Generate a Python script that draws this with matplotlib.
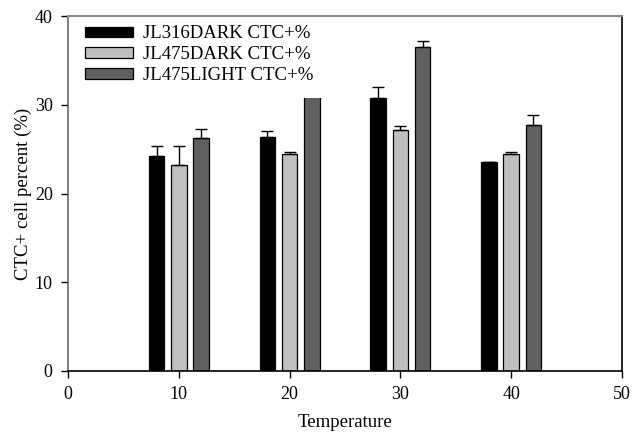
import matplotlib
matplotlib.use('Agg')
import matplotlib.pyplot as plt
import numpy as np

plt.rc('font', family='Liberation Serif', size=11)

temps = [10, 20, 30, 40]
series = ['JL316DARK CTC+%', 'JL475DARK CTC+%', 'JL475LIGHT CTC+%']
jl316_dark = [24.2, 26.4, 30.8, 23.5]
jl316_dark_err = [1.2, 0.6, 1.2, 0.0]
jl475_dark = [23.2, 24.5, 27.2, 24.5]
jl475_dark_err = [2.1, 0.2, 0.4, 0.2]
jl475_light = [26.3, 33.0, 36.5, 27.7]
jl475_light_err = [1.0, 1.0, 0.7, 1.1]

colors = ['#000000', '#c0c0c0', '#606060']
vals = [jl316_dark, jl475_dark, jl475_light]
errs = [jl316_dark_err, jl475_dark_err, jl475_light_err]
offsets = [-2.0, 0.0, 2.0]
width = 1.4

fig = plt.figure(figsize=(6.33, 4.33), dpi=100)
ax = fig.add_axes([0.1074, 0.1432, 0.8752, 0.8198])

x = np.array(temps, dtype=float)
for i in range(3):
    ax.bar(x + offsets[i], vals[i], width=width, color=colors[i],
           edgecolor='black', linewidth=0.9, label=series[i], zorder=1)
    lo = np.zeros(len(temps))
    ax.errorbar(x + offsets[i], vals[i], yerr=[lo, errs[i]], fmt='none',
                ecolor='black', elinewidth=1.0, capsize=4, capthick=1.0, zorder=1.5)

ax.set_xlim(0, 50)
ax.set_ylim(0, 40)
ax.set_xticks(np.arange(0, 60, 10))
ax.set_yticks(np.arange(0, 50, 10))
ax.tick_params(axis='both', direction='out', length=5, width=1, labelsize=13,
               top=False, right=False, pad=6)
ax.spines['left'].set_color('#666666')
ax.spines['top'].set_color('#888888')
ax.spines['top'].set_linewidth(1.5)
ax.spines['right'].set_color('black')
ax.spines['right'].set_linewidth(1.2)
ax.spines['bottom'].set_color('black')
ax.spines['bottom'].set_linewidth(1.2)
ax.spines['left'].set_linewidth(1.2)

ax.set_xlabel('Temperature', fontsize=13.5, labelpad=8)
ax.set_ylabel('CTC+ cell percent (%)', fontsize=13.5, labelpad=2)

leg = ax.legend(loc='upper left', bbox_to_anchor=(0.0054, 1.013), borderaxespad=0,
                frameon=True, fancybox=False, facecolor='white', edgecolor='white',
                framealpha=1.0, handlelength=2.56, handleheight=0.48,
                labelspacing=0.2, handletextpad=0.53, borderpad=0.75,
                fontsize=13.5)
leg.set_zorder(2)
leg.get_frame().set_linewidth(0)

fig.savefig('out.png', dpi=100)
